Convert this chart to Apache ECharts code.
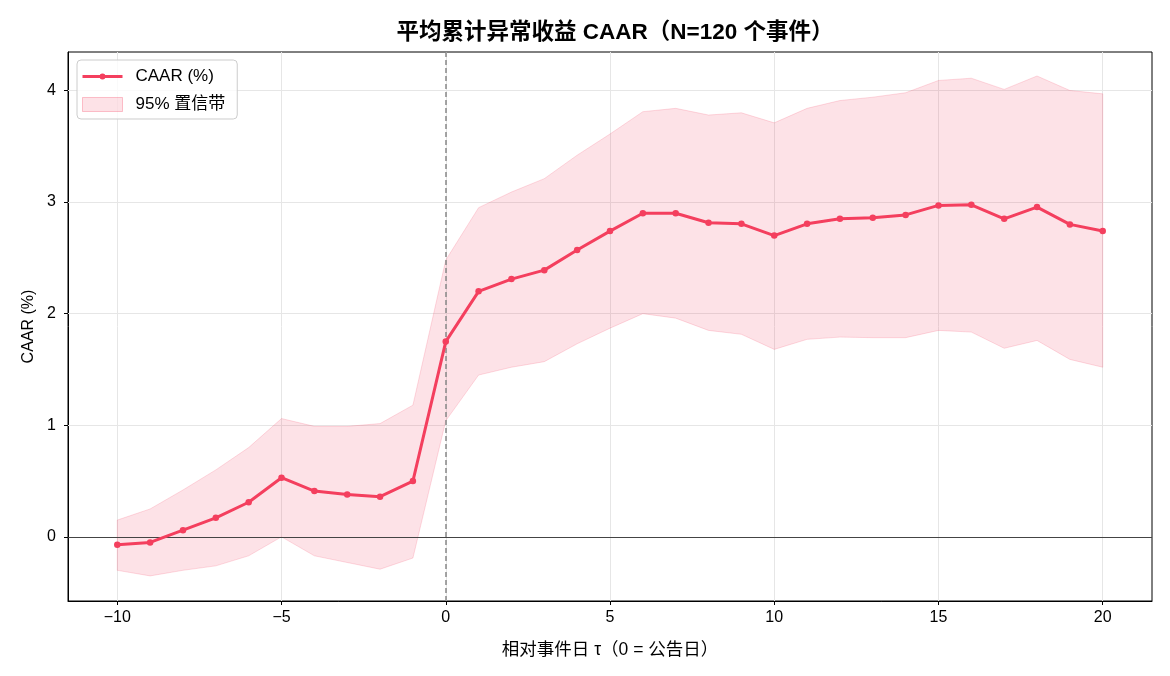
<!DOCTYPE html>
<html>
<head>
<meta charset="utf-8">
<title>CAAR</title>
<script src="https://cdn.jsdelivr.net/npm/echarts@6/dist/echarts.min.js"></script>
<style>
  html, body { margin: 0; padding: 0; background: #fff; }
  #main { width: 1170px; height: 676px; }
</style>
</head>
<body>
<div id="main"></div>
<script>
// 事件窗口 τ = -10 ... 20
var tau = [-10, -9, -8, -7, -6, -5, -4, -3, -2, -1, 0, 1, 2, 3, 4, 5, 6, 7, 8, 9, 10,
           11, 12, 13, 14, 15, 16, 17, 18, 19, 20];
// CAAR (%)
var caar = [-0.07, -0.05, 0.06, 0.17, 0.31, 0.53, 0.41, 0.38, 0.36, 0.50, 1.75,
            2.20, 2.31, 2.39, 2.57, 2.74, 2.90, 2.90, 2.815, 2.805, 2.70,
            2.805, 2.85, 2.86, 2.885, 2.97, 2.975, 2.85, 2.955, 2.80, 2.74];
// 95% 置信带
var upper = [0.15, 0.25, 0.42, 0.60, 0.80, 1.06, 0.99, 0.99, 1.015, 1.18, 2.48,
             2.95, 3.09, 3.21, 3.42, 3.61, 3.81, 3.84, 3.78, 3.80, 3.71,
             3.84, 3.91, 3.94, 3.98, 4.09, 4.11, 4.01, 4.13, 4.00, 3.97];
var lower = [-0.30, -0.35, -0.30, -0.26, -0.17, 0.00, -0.17, -0.23, -0.29, -0.19, 1.04,
             1.45, 1.52, 1.57, 1.73, 1.87, 2.00, 1.96, 1.85, 1.815, 1.68,
             1.77, 1.79, 1.785, 1.785, 1.85, 1.835, 1.69, 1.76, 1.59, 1.52];
// 刻度
var xTicks = [-10, -5, 0, 5, 10, 15, 20];
var yTicks = [0, 1, 2, 3, 4];

var red = '#f43f5e';
var bandFill = 'rgba(244,63,94,0.15)';
var bandEdge = 'rgba(244,63,94,0.18)';
var font = "'Liberation Sans', 'Noto Sans CJK SC', sans-serif";

function fmt(v) { return v < 0 ? '\u2212' + Math.abs(v) : String(v); }

var myChart = echarts.init(document.getElementById('main'));

var gridLines = xTicks.map(function (v) { return { xAxis: v }; })
  .concat(yTicks.map(function (v) { return { yAxis: v }; }));

myChart.setOption({
  animation: false,
  textStyle: { fontFamily: font },
  title: {
    text: '平均累计异常收益 CAAR（N=120 个事件）',
    left: 610, top: 17, textAlign: 'center',
    textStyle: { fontSize: 22.5, fontWeight: 'bold', color: '#000', fontFamily: font }
  },
  legend: {
    orient: 'vertical',
    left: 77, top: 60,
    padding: [8, 12, 6, 5],
    itemWidth: 40, itemHeight: 14, itemGap: 11,
    borderColor: '#cccccc', borderWidth: 1, borderRadius: 4,
    backgroundColor: 'rgba(255,255,255,0.8)',
    textStyle: { fontSize: 17, color: '#000', fontFamily: font, padding: [0, 0, 0, 8] },
    data: [
      { name: 'CAAR (%)', icon: 'path://M0,4h40v3H0z M17,5.5a3,3 0 1,1 6,0a3,3 0 1,1 -6,0z',
        itemStyle: { color: red } },
      { name: '95% 置信带', icon: 'rect',
        itemStyle: { color: bandFill, borderColor: 'rgba(244,63,94,0.3)', borderWidth: 1 } }
    ]
  },
  grid: { left: 68, right: 18, top: 52, bottom: 75, show: true, borderColor: '#000', borderWidth: 1 },
  xAxis: {
    type: 'value', min: -11.5, max: 21.5,
    name: '相对事件日 τ（0 = 公告日）', nameLocation: 'middle', nameGap: 40,
    nameTextStyle: { fontSize: 17.5, color: '#000' },
    axisLine: { onZero: false, lineStyle: { color: '#000', width: 1 } },
    axisTick: { customValues: xTicks, length: 4, lineStyle: { color: '#000' } },
    axisLabel: { customValues: xTicks, formatter: fmt, fontSize: 16, color: '#000', margin: 9 },
    splitLine: { show: false }
  },
  yAxis: {
    type: 'value', min: -0.575, max: 4.345,
    name: 'CAAR (%)', nameLocation: 'middle', nameGap: 30,
    nameTextStyle: { fontSize: 16, color: '#000' },
    axisLine: { show: true, onZero: false, lineStyle: { color: '#000', width: 1 } },
    axisTick: { show: true, customValues: yTicks, length: 4, lineStyle: { color: '#000' } },
    axisLabel: { customValues: yTicks, formatter: fmt, fontSize: 16, color: '#000', margin: 12 },
    splitLine: { show: false }
  },
  series: [
    {
      // 网格线
      name: 'grid', type: 'line', data: [], z: 1, silent: true,
      markLine: {
        z: 1, silent: true, symbol: 'none', animation: false,
        label: { show: false },
        lineStyle: { color: '#e6e6e6', width: 1, type: 'solid' },
        data: gridLines
      }
    },
    {
      // 置信带多边形：上界从左到右，下界从右到左
      name: '95% 置信带', type: 'custom', z: 2, silent: true,
      data: [[tau[0], lower[0]]],
      encode: { x: 0, y: 1 },
      itemStyle: { color: bandFill },
      renderItem: function (params, api) {
        if (params.dataIndex !== 0) return;
        var pts = [];
        for (var i = 0; i < tau.length; i++) pts.push(api.coord([tau[i], upper[i]]));
        for (var j = tau.length - 1; j >= 0; j--) pts.push(api.coord([tau[j], lower[j]]));
        return {
          type: 'polygon',
          shape: { points: pts },
          style: { fill: bandFill, stroke: bandEdge, lineWidth: 1 }
        };
      }
    },
    {
      name: 'ref', type: 'line', data: [], z: 3, silent: true,
      markLine: {
        z: 3, silent: true, symbol: 'none', animation: false,
        label: { show: false },
        data: [
          { yAxis: 0, lineStyle: { color: '#444', width: 1, type: 'solid' } },
          { xAxis: 0, lineStyle: { color: '#888', width: 1.5, type: [5, 3] } }
        ]
      }
    },
    {
      name: 'CAAR (%)', type: 'line', z: 4,
      data: tau.map(function (t, i) { return [t, caar[i]]; }),
      symbol: 'circle', symbolSize: 6.5,
      itemStyle: { color: red },
      lineStyle: { color: red, width: 3 }
    }
  ]
});
</script>
</body>
</html>
